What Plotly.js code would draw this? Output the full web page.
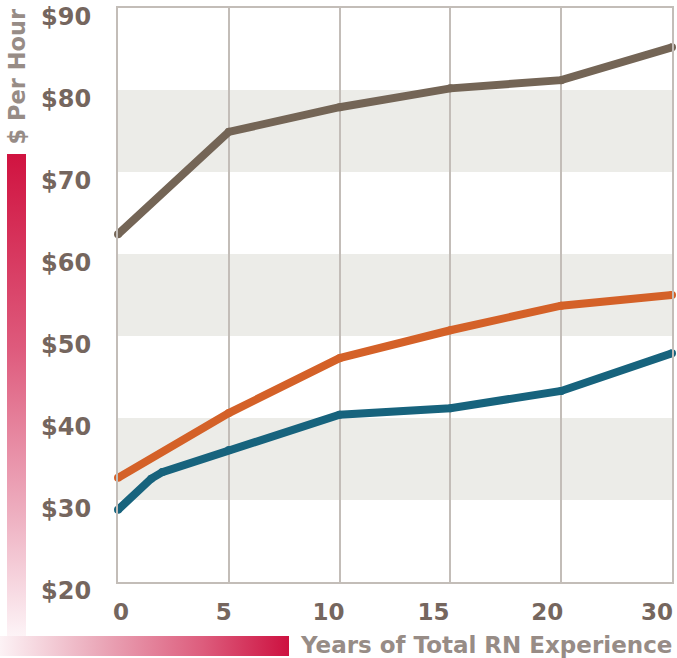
<!DOCTYPE html>
<html>
<head>
<meta charset="utf-8">
<script src="https://cdn.plot.ly/plotly-3.0.1.min.js"></script>
<style>html,body{margin:0;padding:0;background:#fff;}#chart{width:677px;height:658px;}</style>
</head>
<body>
<div id="chart"></div>
<script>
// ---- data ----
const xTickYears = [0, 5, 10, 15, 20, 30];
const xTickLabels = ['0', '5', '10', '15', '20', '30'];
const yTickValues = [20, 30, 40, 50, 60, 70, 80, 90];
const yTickLabels = ['$20', '$30', '$40', '$50', '$60', '$70', '$80', '$90'];

const brownYears = [0, 5, 10, 15, 20, 30];
const brownPay = [62.4, 74.9, 77.9, 80.2, 81.2, 85.2];
const orangeYears = [0, 5, 10, 15, 20, 30];
const orangePay = [32.7, 40.6, 47.3, 50.7, 53.7, 55.0];
const tealYears = [0, 1.5, 2, 5, 10, 15, 20, 30];
const tealPay = [28.8, 32.6, 33.4, 36.1, 40.4, 41.2, 43.3, 47.9];

const bandRanges = [[30, 40], [50, 60], [70, 80]];

// ---- styling / geometry ----
const W = 677, H = 658;
const L = 118, R = 672, T = 8, B = 582;
const pw = R - L, ph = B - T;
const labelNudgePx = [3, -5, -11, -17, -14, -15];

// axis is evenly spaced per tick: 0..20 linear, 20->30 compressed into one step
function axisPos(year) { return year <= 20 ? year : 20 + (year - 20) / 2; }
const pxPerUnit = pw / 25;

const tickCol = '#75665e';
const titleCol = '#978c86';
const gridCol = '#c3bdb8';
const FONT = 'DejaVu Sans';

function px2paperX(px) { return (px - L) / pw; }
function px2paperY(py) { return (B - py) / ph; }

function gradSvg(w, h, vertical, stops) {
  const g = vertical ? 'x1="0" y1="0" x2="0" y2="1"' : 'x1="0" y1="0" x2="1" y2="0"';
  const st = stops.map(s => `<stop offset="${s[0]}" stop-color="${s[1]}"/>`).join('');
  const svg = `<svg xmlns="http://www.w3.org/2000/svg" width="${w}" height="${h}" preserveAspectRatio="none"><defs><linearGradient id="g" ${g}>${st}</linearGradient></defs><rect width="${w}" height="${h}" fill="url(#g)"/></svg>`;
  return 'data:image/svg+xml;charset=utf-8,' + encodeURIComponent(svg);
}
function rectImage(x0, y0, x1, y1, src) {
  return { source: src, xref: 'paper', yref: 'paper', x: px2paperX(x0), y: px2paperY(y0),
    sizex: (x1 - x0) / pw, sizey: (y1 - y0) / ph, sizing: 'stretch', xanchor: 'left', yanchor: 'top', layer: 'below' };
}

function lineTrace(xs, ys, color, name) {
  return { x: xs.map(axisPos), y: ys, type: 'scatter', mode: 'lines+markers', name: name,
    line: { color: color, width: 8 }, marker: { color: color, size: 8, line: { width: 0 } },
    hoverinfo: 'skip', cliponaxis: false };
}

const data = [
  lineTrace(brownYears, brownPay, '#746556', 'brown'),
  lineTrace(orangeYears, orangePay, '#d46128', 'orange'),
  lineTrace(tealYears, tealPay, '#17637d', 'teal'),
];

const axisFontX = { family: FONT, size: 23, color: tickCol, weight: 700 };
const axisFontY = { family: FONT, size: 24, color: tickCol, weight: 700 };

const layout = {
  width: W, height: H,
  margin: { l: L, r: W - R, t: T, b: H - B, pad: 0 },
  paper_bgcolor: '#ffffff', plot_bgcolor: '#ffffff',
  showlegend: false,
  xaxis: {
    range: [0, 25], tickmode: 'array', tickvals: xTickYears.map(axisPos), showticklabels: false,
    showgrid: true, gridcolor: gridCol, gridwidth: 2, zeroline: false,
    showline: true, linecolor: gridCol, linewidth: 2, mirror: true, ticks: '', fixedrange: true
  },
  xaxis2: {
    overlaying: 'x', anchor: 'y', side: 'bottom', range: [0, 25], tickmode: 'array',
    tickvals: xTickYears.map((v, i) => axisPos(v) + labelNudgePx[i] / pxPerUnit), ticktext: xTickLabels,
    showgrid: false, zeroline: false, showline: false, ticks: '', tickfont: axisFontX,
    ticklabelstandoff: 14, fixedrange: true
  },
  yaxis: {
    range: [20, 90], tickmode: 'array', tickvals: yTickValues, ticktext: yTickLabels,
    showgrid: false, zeroline: false, showline: true, linecolor: gridCol, linewidth: 2, mirror: true,
    ticks: '', tickfont: axisFontY, ticklabelstandoff: 20, ticklabelshift: 9, fixedrange: true
  },
  shapes: bandRanges.map(r => ({ type: 'rect', xref: 'paper', yref: 'y', x0: 0, x1: 1, y0: r[0], y1: r[1],
    fillcolor: '#ecece8', line: { width: 0 }, layer: 'below' })),
  images: [
    rectImage(7, 154, 26, 637, gradSvg(19, 483, true, [[0, '#d01340'], [0.4, '#de5a7c'], [0.75, '#eeb0c1'], [1, '#fdf4f7']])),
    rectImage(0, 636, 289, 656, gradSvg(289, 20, false, [[0, '#fcf2f5'], [0.35, '#eaa7b8'], [0.7, '#dd5d7d'], [1, '#cd1140']]))
  ],
  annotations: [
    { text: '$ Per Hour', xref: 'paper', yref: 'paper', x: px2paperX(16.5), y: px2paperY(77),
      xanchor: 'center', yanchor: 'middle', textangle: -90, showarrow: false,
      font: { family: FONT, size: 22.5, color: titleCol, weight: 700 } },
    { text: 'Years of Total RN Experience', xref: 'paper', yref: 'paper', x: px2paperX(674), y: px2paperY(645),
      xanchor: 'right', yanchor: 'middle', showarrow: false,
      font: { family: FONT, size: 23, color: titleCol, weight: 700 } }
  ]
};

data.push({ x: [0], y: [20], xaxis: 'x2', yaxis: 'y', type: 'scatter', mode: 'markers',
  marker: { opacity: 0 }, hoverinfo: 'skip', showlegend: false });

Plotly.newPlot('chart', data, layout, { staticPlot: true, displayModeBar: false });
</script>
</body>
</html>
